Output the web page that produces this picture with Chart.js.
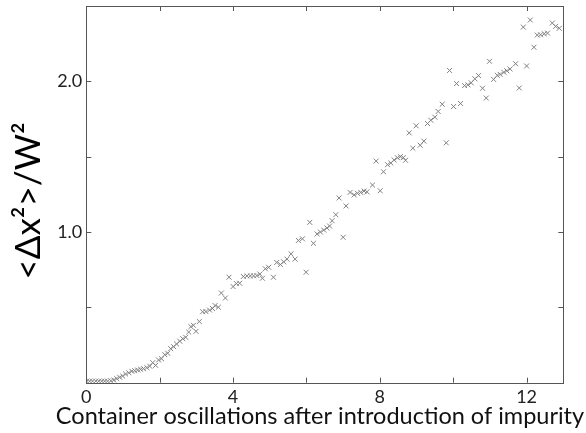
<!DOCTYPE html>
<html lang="en">
  <head>
    <meta charset="UTF-8" />
    <title>msd</title>
    <script src="https://cdn.jsdelivr.net/npm/chart.js"></script>
    <style>
      html, body { margin: 0; padding: 0; background: #fff; }
      #wrap { width: 586px; height: 433px; }
    </style>
  </head>
  <body>
    <div id="wrap"><canvas id="msdChart"></canvas></div>
    <script>
      // time in container oscillations
      const oscillations = [
        0.01, 0.09, 0.17, 0.26, 0.34, 0.42, 0.5, 0.58, 0.67, 0.75,
        0.83, 0.91, 0.99, 1.07, 1.16, 1.24, 1.32, 1.4, 1.48, 1.56,
        1.65, 1.73, 1.81, 1.89, 1.97, 2.05, 2.14, 2.22, 2.3, 2.38,
        2.46, 2.55, 2.63, 2.71, 2.79, 2.85, 2.92, 2.99, 3.08, 3.17,
        3.26, 3.36, 3.44, 3.51, 3.6, 3.68, 3.79, 3.89, 4.0, 4.09,
        4.18, 4.28, 4.38, 4.47, 4.56, 4.65, 4.73, 4.8, 4.88, 4.97,
        5.1, 5.19, 5.29, 5.38, 5.47, 5.58, 5.69, 5.78, 5.89, 5.99,
        6.09, 6.19, 6.29, 6.38, 6.47, 6.56, 6.63, 6.7, 6.8, 6.89,
        7.0, 7.08, 7.19, 7.3, 7.39, 7.48, 7.57, 7.65, 7.8, 7.9,
        8.01, 8.1, 8.21, 8.3, 8.39, 8.48, 8.56, 8.64, 8.7, 8.8,
        8.9, 8.99, 9.1, 9.2, 9.3, 9.39, 9.5, 9.59, 9.7, 9.81,
        9.9, 10.01, 10.09, 10.2, 10.31, 10.4, 10.49, 10.59, 10.69, 10.8,
        10.9, 10.99, 11.1, 11.2, 11.28, 11.38, 11.46, 11.55, 11.7, 11.8,
        11.91, 12.0, 12.1, 12.2, 12.29, 12.38, 12.48, 12.57, 12.7, 12.79, 12.89,
      ];
      // <dx^2>/W^2
      const msd = [
        0.01, 0.01, 0.01, 0.01, 0.01, 0.01, 0.01, 0.01, 0.013, 0.018,
        0.027, 0.036, 0.044, 0.058, 0.066, 0.076, 0.08, 0.084, 0.089, 0.093,
        0.1, 0.109, 0.133, 0.115, 0.151, 0.159, 0.186, 0.195, 0.226, 0.239,
        0.257, 0.275, 0.292, 0.301, 0.336, 0.372, 0.381, 0.341, 0.406, 0.471,
        0.472, 0.482, 0.492, 0.512, 0.501, 0.595, 0.562, 0.7, 0.638, 0.658,
        0.66, 0.705, 0.709, 0.709, 0.709, 0.711, 0.721, 0.693, 0.756, 0.766,
        0.7, 0.798, 0.784, 0.802, 0.82, 0.855, 0.82, 0.944, 0.955, 0.733,
        1.064, 0.925, 0.987, 1.0, 1.013, 1.027, 1.04, 1.075, 1.115, 1.226,
        0.965, 1.173, 1.263, 1.246, 1.257, 1.263, 1.272, 1.267, 1.312, 1.471,
        1.274, 1.4, 1.447, 1.458, 1.478, 1.493, 1.5, 1.494, 1.476, 1.658,
        1.556, 1.705, 1.576, 1.603, 1.72, 1.742, 1.762, 1.8, 1.848, 1.592,
        2.072, 1.833, 1.985, 1.853, 1.972, 1.977, 1.99, 2.017, 2.038, 1.954,
        1.889, 2.133, 2.013, 2.04, 2.046, 2.06, 2.07, 2.082, 2.117, 1.956,
        2.36, 2.102, 2.407, 2.226, 2.307, 2.309, 2.316, 2.32, 2.387, 2.365, 2.352,
      ];
      const xTickLabels = [0, 4, 8, 12];
      const yTickLabels = { 1: "1.0", 2: "2.0" };
      const xTitle = "Container oscillations after introduction of impurity";
      const yTitle = "<Δx²>/W²";

      const FONT = "Lato, 'Open Sans', sans-serif";

      // box around the plot + little inward ticks on every side, and both axis titles
      const frameTicks = {
        id: "frame-ticks",
        afterDraw(chart) {
          const { ctx, chartArea: a, scales } = chart;
          const len = 5;
          ctx.save();
          ctx.strokeStyle = "#555";
          ctx.lineWidth = 1;
          ctx.strokeRect(Math.round(a.left) + 0.5, Math.round(a.top) + 0.5, Math.round(a.right - a.left), Math.round(a.bottom - a.top));
          ctx.beginPath();
          scales.x.ticks.forEach((t) => {
            if (t.value % 2 !== 0 || t.value === 0) return;
            const px = Math.round(scales.x.getPixelForValue(t.value)) + 0.5;
            ctx.moveTo(px, a.bottom); ctx.lineTo(px, a.bottom - len);
            ctx.moveTo(px, a.top); ctx.lineTo(px, a.top + len);
          });
          scales.y.ticks.forEach((t) => {
            if (t.value === 0 || t.value === 2.5) return;
            const py = Math.round(scales.y.getPixelForValue(t.value)) + 0.5;
            ctx.moveTo(a.left, py); ctx.lineTo(a.left + len, py);
            ctx.moveTo(a.right, py); ctx.lineTo(a.right - len, py);
          });
          ctx.stroke();

          ctx.fillStyle = "#111";
          ctx.textAlign = "center";
          ctx.textBaseline = "middle";
          ctx.font = "23.5px " + FONT;
          ctx.fillText(xTitle, 320, 416);

          ctx.fillStyle = "#000";
          ctx.font = "35px " + FONT;
          ctx.translate(29, 201);
          ctx.rotate(-Math.PI / 2);
          ctx.fillText(yTitle, 0, 0);
          ctx.restore();
        },
      };

      const ctx = document.getElementById("msdChart").getContext("2d");
      new Chart(ctx, {
        type: "scatter",
        plugins: [frameTicks],
        data: {
          datasets: [
            {
              data: oscillations.map((x, i) => ({ x: x, y: msd[i] })),
              pointStyle: "crossRot",
              pointRadius: 3.5,
              pointHoverRadius: 3.5,
              borderColor: "#808080",
              backgroundColor: "#808080",
              pointBorderWidth: 1,
            },
          ],
        },
        options: {
          responsive: true,
          maintainAspectRatio: false,
          animation: false,
          layout: { padding: { top: 6, right: 22.7, left: 0, bottom: 0 } },
          plugins: { legend: { display: false }, tooltip: { enabled: false } },
          scales: {
            x: {
              type: "linear",
              min: 0,
              max: 13,
              border: { display: false },
              grid: { display: false, drawTicks: false },
              ticks: {
                stepSize: 2,
                autoSkip: false,
                maxRotation: 0,
                padding: 4,
                color: "#222",
                font: { family: FONT, size: 18 },
                callback: (v) => (xTickLabels.includes(v) ? String(v) : ""),
              },
              afterFit: (s) => {
                s.height = 50.3;
                s.paddingLeft = 0;
                s.paddingRight = 0;
              },
            },
            y: {
              min: 0,
              max: 2.5,
              border: { display: false },
              grid: { display: false, drawTicks: false },
              ticks: {
                stepSize: 0.5,
                padding: 4,
                color: "#222",
                font: { family: FONT, size: 18 },
                callback: (v) => yTickLabels[v] || "",
              },
              afterFit: (s) => {
                s.width = 86.3;
                s.paddingTop = 0;
                s.paddingBottom = 0;
              },
            },
          },
        },
      });
    </script>
  </body>
</html>
